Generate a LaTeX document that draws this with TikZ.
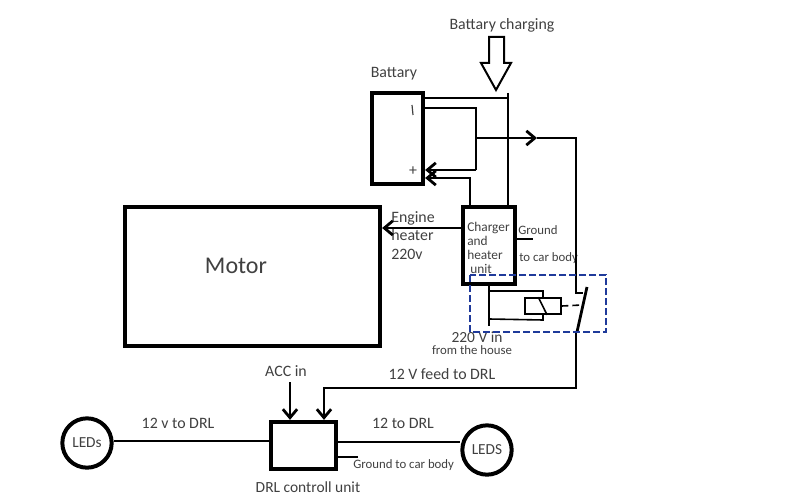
\documentclass[tikz,border=0pt]{standalone}
\usepackage{fontspec}
\setmainfont{Carlito}
\usetikzlibrary{
  arrows.meta, % for Straight Barb arrow tip
  positioning
}
\definecolor{inkgray}{HTML}{404040}
\definecolor{relayblue}{HTML}{1F3A9A}
\tikzset{
  unitbox/.style={ % style for the thick boxes
    rectangle,draw,line width=3.2pt,
    inner sep=0pt,
  },
  led/.style={ % style for the two lamps
    circle,draw,line width=3pt,
    inner sep=0pt,
    minimum size=37pt,
    font=\fontsize{11.5}{11.5}\selectfont,text=inkgray,
  },
  lbl/.style={ % style for the labels
    inner sep=0pt,
    font=\fontsize{11.9}{14}\selectfont,text=inkgray,
  },
  small/.style={ % style for the smaller labels
    lbl,font=\fontsize{9.6}{10.5}\selectfont,
  },
  wire/.style={ % style for the plain wires
    line width=2.1pt,
  },
  conn/.style={ % style for the wires with arrow
    wire,-{Straight Barb[angle=80:2pt 3]},
  },
}
\begin{document}
\begin{tikzpicture}[x=0.75pt,y=-0.75pt]
  \useasboundingbox (0,0) rectangle (800,499);
  % boxes
  \node[unitbox, minimum width=38.25pt, minimum height=68.25pt] (battary) at (397.5,138.5) {};
  \node[unitbox, minimum width=39pt, minimum height=57.75pt] (charger) at (489,245.5) {};
  \node[unitbox, minimum width=191.25pt, minimum height=104.25pt] (motor) at (252.5,276.5) {};
  \node[unitbox, minimum width=48.75pt, minimum height=35.25pt] (drl) at (303.5,445.5) {};
  \node[led] (ledsl) at (87,443) {LEDs};
  \node[led] (ledsr) at (487,450) {LEDS};
  \node[rectangle, draw, line width=1.2pt, minimum width=27pt, minimum height=12pt] (coil) at (543,306) {};
  % labels
  \node[lbl] (tcharging) at (502,25) {Battary charging};
  \node[lbl] (tbattary) at (394,74) {Battary};
  \node[lbl] (tplus) at (413,171) {+};
  \node[lbl, font=\fontsize{18}{21}\selectfont] (tmotor) at (236,266) {Motor};
  \node[lbl, align=left, anchor=north west] (theater) at (391,211) {Engine\\heater\\220v};
  \node[small, align=left, anchor=north west, font=\fontsize{10}{10.5}\selectfont] (tunit) at (467,222) {Charger\\and\\heater\\\ unit};
  \node[small, anchor=west] (tground) at (518,230) {Ground};
  \node[small, anchor=west] (tcarbody) at (519,258) {to car body};
  \node[lbl, font=\fontsize{11.6}{14}\selectfont] (tin) at (477,337) {220 V in};
  \node[small] (thouse) at (472,350) {from the house};
  \node[lbl] (tacc) at (286,371) {ACC in};
  \node[lbl] (tfeed) at (442,374) {12 V feed to DRL};
  \node[lbl] (tdrll) at (178,423) {12 v to DRL};
  \node[lbl] (tdrlr) at (403,423) {12 to DRL};
  \node[small, anchor=west] (tgnd) at (353,465) {Ground to car body};
  \node[lbl, font=\fontsize{11.6}{14}\selectfont] (tcontrol) at (308,487) {DRL controll unit};
  % junctions
  \coordinate (bustop) at (508,93);
  \coordinate (tapa) at (508,98);
  \coordinate (tapb) at (476,108);
  \coordinate (tapc) at (476,170);
  \coordinate (feedc) at (470,178);
  \coordinate (midb) at (476,138);
  \coordinate (barb) at (537,138);
  \coordinate (feedtop) at (576,138);
  \coordinate (contact) at (576,293);
  \coordinate (fixed) at (583,293);
  \coordinate (bladeup) at (587,287);
  \coordinate (bladelow) at (577,332);
  \coordinate (feedlow) at (576,388);
  \coordinate (feedend) at (324,388);
  \coordinate (accstart) at (290,382);
  \coordinate (heatstart) at (420,228);
  \coordinate (reltop) at (489,286);
  \coordinate (relbot) at (489,326);
  \coordinate (rela) at (489,291);
  \coordinate (relb) at (489,319);
  \coordinate (relc) at (543,291);
  \coordinate (reld) at (543,320);
  \coordinate (bladestop) at (582,305);
  \coordinate (gnda) at (533,239);
  \coordinate (gndb) at (358,457);
  % wires at the battery
  \draw[wire] (bustop) -- (bustop |- charger.north);
  \draw[wire] (tapa -| battary.east) -- (tapa);
  \draw[wire] (tapb -| battary.east) -- (tapb) -- (tapc);
  \draw[conn] (tapc) -- (tapc -| battary.east);
  \draw[conn] (feedc |- charger.north) -- (feedc) -- (feedc -| battary.east);
  \draw[conn] (midb) -- (barb);
  \draw[wire] (barb) -- (feedtop) -- (contact) -- (fixed);
  \draw[wire] (bladeup) -- (bladelow);
  \draw[conn] (bladelow -| feedlow) -- (feedlow) -- (feedend) -- (feedend |- drl.north);
  \draw[conn] (accstart) -- (accstart |- drl.north);
  % charger
  \draw[conn] (charger.west |- heatstart) -- (motor.east |- heatstart);
  \draw[wire] (charger.east |- gnda) -- (gnda);
  % relay
  \draw[wire] (reltop) -- (relbot);
  \draw[line width=1.2pt] (rela) -- (relc) -- (coil.north -| relc);
  \draw[line width=1.2pt] (relb) -- (reld) -- (coil.south -| reld);
  \draw[line width=1.2pt] ([xshift=-3.5pt]coil.north) -- ([xshift=3pt]coil.south);
  \draw[line width=1.2pt, dash pattern=on 5pt off 3pt] (coil.east) -- (bladestop);
  \draw[relayblue, line width=1.5pt, dash pattern=on 5pt off 2.5pt] (470,275) rectangle (606,332);
  % leds
  \draw[wire] (ledsl.east |- 0,441) -- (drl.west |- 0,441);
  \draw[wire] (drl.east |- 0,442) -- (ledsr.west |- 0,442);
  \draw[wire] (drl.east |- gndb) -- (gndb);
  % hollow arrow
  \draw[line width=1.5pt, line join=miter] (489,37) -- (504,37) -- (504,63) -- (511,63) -- (496,90) -- (481,63) -- (489,63) -- cycle;
  % minus sign of the battery
  \draw[inkgray, line width=0.9pt] (412,105) -- (413,115);
\end{tikzpicture}
\end{document}
